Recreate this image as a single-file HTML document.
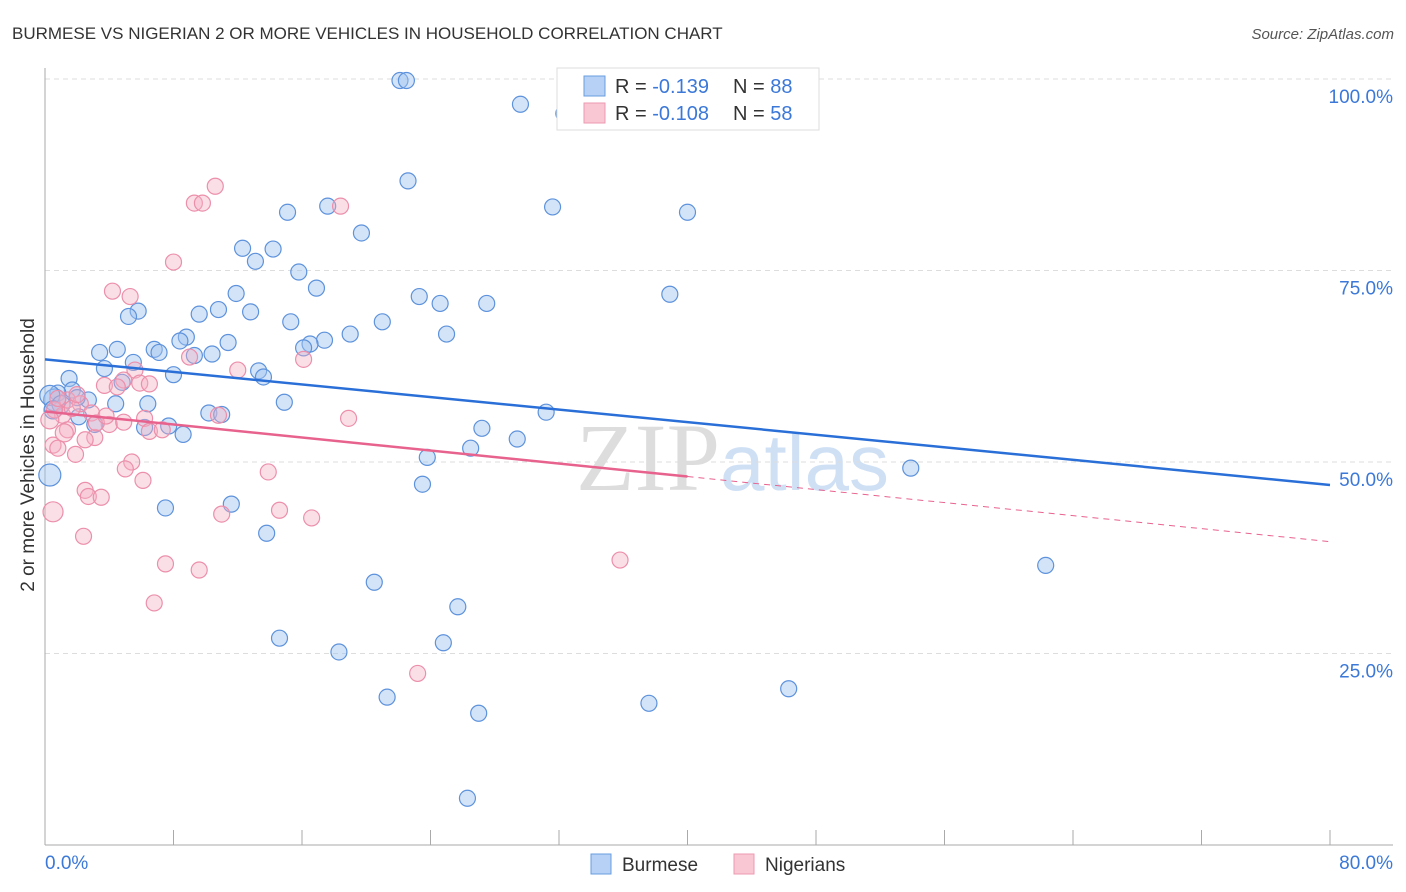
<!DOCTYPE html>
<html><head><meta charset="utf-8"><style>
body{margin:0;background:#fff;font-family:"Liberation Sans",sans-serif;}
svg{display:block}
</style></head><body>
<svg id="chart" width="1406" height="892" xmlns="http://www.w3.org/2000/svg">
<text x="12" y="39" font-size="17" fill="#333">BURMESE VS NIGERIAN 2 OR MORE VEHICLES IN HOUSEHOLD CORRELATION CHART</text>
<text x="1394" y="39" font-size="15" fill="#555" font-style="italic" text-anchor="end">Source: ZipAtlas.com</text>
<text x="720" y="490" font-size="96" fill="#ddd" text-anchor="end" font-family="Liberation Serif">ZIP</text>
<text x="720" y="490" font-size="80" fill="#cfe0f5">atlas</text>
<g id="grid"></g><g id="axes"></g><g id="pts"></g><g id="lines"></g>
<text transform="translate(34,455) rotate(-90)" font-size="19" fill="#333" text-anchor="middle">2 or more Vehicles in Household</text>
<text x="45" y="869" font-size="19" fill="#3b78d8">0.0%</text>
<text x="1393" y="869" font-size="19" fill="#3b78d8" text-anchor="end">80.0%</text>
<g>
<rect x="557" y="68" width="262" height="62" fill="#fff" stroke="#ddd"/>
<rect x="584" y="76" width="21" height="20" fill="#b7d0f5" stroke="#6a9ee0"/>
<rect x="584" y="103" width="21" height="20" fill="#f9c6d3" stroke="#ec9ab2"/>
<text x="615" y="93" font-size="20" fill="#333">R = <tspan fill="#3b78d8">-0.139</tspan><tspan x="733">N = </tspan><tspan fill="#3b78d8">88</tspan></text>
<text x="615" y="120" font-size="20" fill="#333">R = <tspan fill="#3b78d8">-0.108</tspan><tspan x="733">N = </tspan><tspan fill="#3b78d8">58</tspan></text>
</g>
<g>
<rect x="591" y="854" width="20" height="20" fill="#b7d0f5" stroke="#6a9ee0"/>
<text x="622" y="871" font-size="19" fill="#333">Burmese</text>
<rect x="734" y="854" width="20" height="20" fill="#f9c6d3" stroke="#ec9ab2"/>
<text x="765" y="871" font-size="19" fill="#333">Nigerians</text>
</g>
</svg>
<script>
const yTicks=[25,50,75,100];
const yTickLabels=["25.0%","50.0%","75.0%","100.0%"];
const xTicks=[0,8,16,24,32,40,48,56,64,72,80];
const blueX=[22.1,22.5,29.6,32.3,22.6,31.6,40.0,15.1,17.6,19.7,12.3,14.2,13.1,15.8,16.9,11.9,23.3,24.6,27.5,38.9,5.8,5.2,12.8,10.8,9.6,15.3,21.0,25.0,19.0,17.4,16.5,16.1,8.8,8.4,11.4,6.8,7.1,4.5,3.4,9.3,10.4,5.5,3.7,8.0,13.3,13.6,4.8,1.5,1.7,0.8,2.7,4.4,6.4,14.9,10.2,11.0,2.1,3.1,31.2,6.2,7.7,8.6,27.2,29.4,26.5,23.8,53.9,23.5,0.3,7.5,11.6,13.8,62.3,20.5,25.7,14.6,24.8,18.3,21.3,37.6,46.3,27.0,26.3,0.6,0.3,1.0,0.5,2.0];
const blueY=[99.8,99.8,96.7,95.5,86.7,83.3,82.6,82.6,83.4,79.9,77.9,77.8,76.2,74.8,72.7,72.0,71.6,70.7,70.7,71.9,69.7,69.0,69.6,69.9,69.3,68.3,68.3,66.7,66.7,65.9,65.4,64.9,66.3,65.8,65.6,64.7,64.3,64.7,64.3,63.9,64.1,63.0,62.2,61.4,61.9,61.1,60.4,60.9,59.4,59.0,58.1,57.6,57.6,57.8,56.4,56.2,55.9,54.9,56.5,54.5,54.7,53.6,54.4,53.0,51.8,50.6,49.2,47.1,48.3,44.0,44.5,40.7,36.5,34.3,31.1,27.0,26.4,25.2,19.3,18.5,20.4,17.2,6.1,58.1,58.7,57.5,56.8,58.4];
const blueR=[8,8,8,8,8,8,8,8,8,8,8,8,8,8,8,8,8,8,8,8,8,8,8,8,8,8,8,8,8,8,8,8,8,8,8,8,8,8,8,8,8,8,8,8,8,8,8,8,8,8,8,8,8,8,8,8,8,8,8,8,8,8,8,8,8,8,8,8,11,8,8,8,8,8,8,8,8,8,8,8,8,8,8,11,10,9,9,8];
const pinkX=[10.6,9.3,9.8,18.4,8.0,4.2,5.3,16.1,9.0,12.0,5.6,5.9,4.9,6.5,3.7,4.5,18.9,10.8,1.4,2.2,1.1,2.9,4.0,4.9,6.2,6.5,7.3,1.4,3.1,0.5,0.8,1.9,0.6,5.4,5.0,13.9,6.1,2.5,2.7,3.5,0.5,11.0,14.6,16.6,2.4,7.5,9.6,6.8,35.8,23.2,3.2,0.8,2.5,1.7,0.3,1.2,3.8,2.0];
const pinkY=[86.0,83.8,83.8,83.4,76.1,72.3,71.6,63.4,63.7,62.0,62.0,60.3,60.7,60.2,60.0,59.8,55.7,56.1,58.1,57.6,56.1,56.4,54.9,55.2,55.7,54.0,54.2,54.2,53.2,52.2,51.8,51.0,56.8,50.0,49.1,48.7,47.6,46.3,45.5,45.4,43.5,43.2,43.7,42.7,40.3,36.7,35.9,31.6,37.2,22.4,55.1,58.3,52.9,57.0,55.5,53.8,56.0,58.8];
const pinkR=[8,8,8,8,8,8,8,8,8,8,8,8,8,8,8,8,8,8,8,8,8,8,8,8,8,8,8,8,8,8,8,8,8,8,8,8,8,8,8,8,10,8,8,8,8,8,8,8,8,8,8,8,8,8,9,9,8,8];
const blueTrend=[63.4,47.0];
const pinkTrend=[56.6,48.1,39.6];
const NS="http://www.w3.org/2000/svg";
const xS=v=>45+v/80*1285;
const yS=v=>845-v/100*766;
function mk(t,a,p){const e=document.createElementNS(NS,t);for(const k in a)e.setAttribute(k,a[k]);document.getElementById(p).appendChild(e);return e;}
yTicks.forEach((t,i)=>{
 const l=mk('line',{x1:45,x2:1393,y1:yS(t),y2:yS(t),stroke:'#ddd','stroke-dasharray':'5,4'},'grid');
 
 
 const tx=mk('text',{x:1393,y:yS(t)+24,'font-size':19,fill:'#3b78d8','text-anchor':'end'},'grid');
 tx.textContent=yTickLabels[i];
 
 
});
const ya=mk('line',{x1:45,x2:45,y1:68,y2:845,stroke:'#aaa'},'axes');


const xa=mk('line',{x1:45,x2:1393,y1:845,y2:845,stroke:'#aaa'},'axes');


xTicks.forEach(t=>{
 const l=mk('line',{x1:xS(t),x2:xS(t),y1:830,y2:845,stroke:'#aaa'},'axes');
 
 
});
blueX.forEach((x,i)=>{
 const c=mk('circle',{cx:xS(x),cy:yS(blueY[i]),r:blueR[i],fill:'rgba(160,195,240,0.45)',stroke:'#5d92dc','stroke-width':1.2},'pts');
 
 
});
pinkX.forEach((x,i)=>{
 const c=mk('circle',{cx:xS(x),cy:yS(pinkY[i]),r:pinkR[i],fill:'rgba(245,175,195,0.4)',stroke:'#ec8fab','stroke-width':1.2},'pts');
 
 
});
const bl=mk('line',{x1:xS(0),y1:yS(blueTrend[0]),x2:xS(80),y2:yS(blueTrend[1]),stroke:'#2a6fd8','stroke-width':2.5},'lines');


const pl=mk('line',{x1:xS(0),y1:yS(pinkTrend[0]),x2:xS(40),y2:yS(pinkTrend[1]),stroke:'#e8628e','stroke-width':2.5},'lines');


const pd=mk('line',{x1:xS(40),y1:yS(pinkTrend[1]),x2:xS(80),y2:yS(pinkTrend[2]),stroke:'#e8628e','stroke-width':1,'stroke-dasharray':'6,5'},'lines');


</script>
</body></html>
